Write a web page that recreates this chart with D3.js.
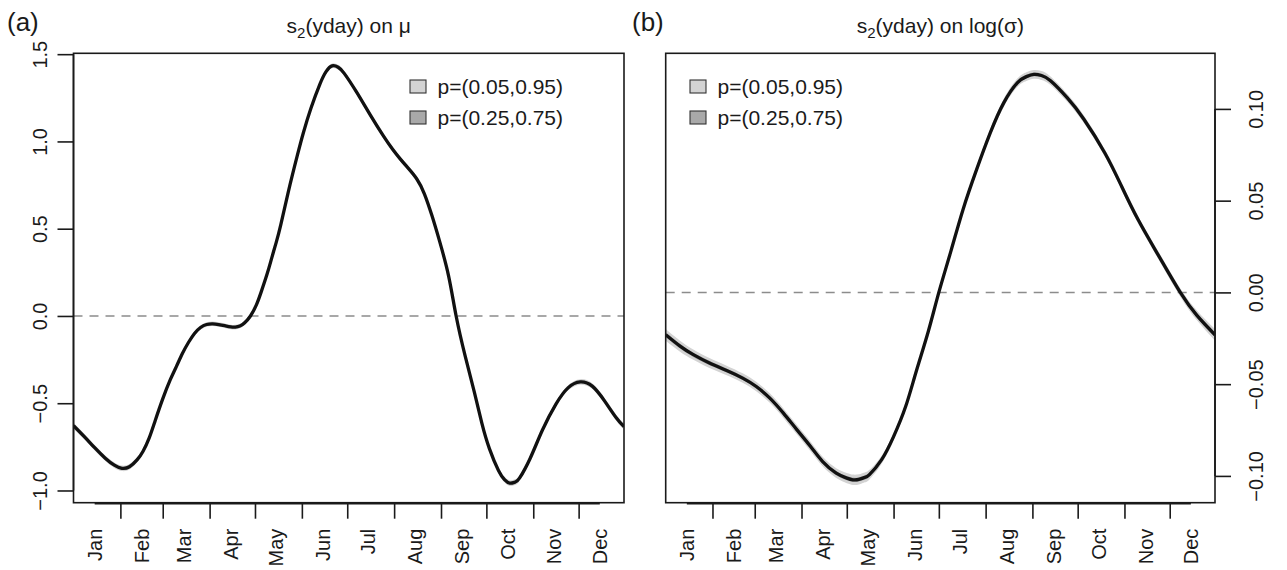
<!DOCTYPE html>
<html>
<head>
<meta charset="utf-8">
<script src="https://cdn.jsdelivr.net/npm/d3@7"></script>
<style>
  body { margin: 0; background: #ffffff; }
  svg text { font-family: "Liberation Sans", Arial, Helvetica, sans-serif; fill: #1a1a1a; }
</style>
</head>
<body>
<svg id="chart" width="1287" height="570"></svg>
<script>
// ---- data -----------------------------------------------------------------
const monthNames  = ["Jan","Feb","Mar","Apr","May","Jun","Jul","Aug","Sep","Oct","Nov","Dec"];
const monthStarts = [32, 60, 91, 121, 152, 182, 213, 244, 274, 305, 335];
const monthMids   = [15, 46, 74, 105, 135, 166, 196, 227, 258, 288, 319, 349];

// smooth effect of day-of-year on mu
const muDay = [1,8,15,22,28,33,38,43,47,51,55,60,65,69,73,77,81,85,89,93,97,101,105,108,111,114,118,122,125,129,
  132,135,138,143,149,153,158,164,168,172,176,180,188,197,206,212,217,222,228,233,238,243,249,254,260,266,271,276,
  282,286,289.5,293,296,303,311,320,328,336,344,352,360,365];
const muFit = [-0.628,-0.69,-0.755,-0.815,-0.855,-0.873,-0.864,-0.825,-0.775,-0.70,-0.600,-0.475,-0.365,-0.29,-0.215,
  -0.152,-0.100,-0.066,-0.049,-0.045,-0.049,-0.056,-0.063,-0.064,-0.058,-0.04,0.0,0.065,0.135,0.24,0.33,0.42,0.52,
  0.71,0.92,1.05,1.19,1.33,1.40,1.433,1.425,1.39,1.285,1.155,1.03,0.955,0.90,0.85,0.785,0.70,0.575,0.43,0.23,0.0,
  -0.23,-0.435,-0.614,-0.76,-0.885,-0.938,-0.958,-0.952,-0.928,-0.815,-0.655,-0.505,-0.412,-0.378,-0.402,-0.485,-0.585,-0.634];
// half widths of the 90% and 50% bands around the mu curve
const muHw90 = [0.018,0.017,0.016,0.016,0.016,0.016,0.016,0.015,0.015,0.014,0.014,0.013,0.013,0.013,0.013,0.013,
  0.013,0.013,0.013,0.013,0.013,0.013,0.013,0.013,0.013,0.013,0.013,0.013,0.013,0.013,0.013,0.013,0.013,0.013,0.013,
  0.013,0.013,0.014,0.014,0.014,0.014,0.014,0.013,0.013,0.013,0.013,0.013,0.013,0.013,0.013,0.013,0.013,0.013,0.013,
  0.013,0.013,0.013,0.014,0.015,0.016,0.016,0.016,0.016,0.015,0.014,0.014,0.015,0.016,0.016,0.016,0.017,0.018];
const muHw50 = [0.008,0.008,0.007,0.007,0.007,0.007,0.007,0.007,0.007,0.006,0.006,0.006,0.006,0.006,0.006,0.006,
  0.006,0.006,0.006,0.006,0.006,0.006,0.006,0.006,0.006,0.006,0.006,0.006,0.006,0.006,0.006,0.006,0.006,0.006,0.006,
  0.006,0.006,0.006,0.006,0.006,0.006,0.006,0.006,0.006,0.006,0.006,0.006,0.006,0.006,0.006,0.006,0.006,0.006,0.006,
  0.006,0.006,0.006,0.006,0.007,0.007,0.007,0.007,0.007,0.007,0.006,0.006,0.007,0.007,0.007,0.007,0.008,0.008];

// smooth effect of day-of-year on log(sigma)
const sigmaDay = [1,10.5,19,30,41,52,61,70,79,88,97,105,114,121,125,129,133,136,144,152,160,167,175,182,190,198,
  207,216,225,234,240,245,250,256,267,278,292,303,314,328,342,353,365];
const sigmaFit = [-0.0231,-0.0293,-0.0338,-0.0385,-0.0424,-0.0467,-0.0513,-0.0576,-0.0658,-0.0749,-0.084,-0.0922,
  -0.0985,-0.1012,-0.1021,-0.1019,-0.1008,-0.0993,-0.0913,-0.0786,-0.0622,-0.0431,-0.0213,0.0,0.0225,0.0451,0.0669,
  0.0868,0.1033,0.1142,0.1176,0.1188,0.1182,0.1153,0.1061,0.0945,0.076,0.058,0.0397,0.0195,0.0,-0.0125,-0.0231];
const sigmaHw90 = [0.0032,0.003,0.0028,0.0027,0.0026,0.0026,0.0026,0.0026,0.0026,0.0026,0.0026,0.0026,0.0027,
  0.0028,0.0028,0.0028,0.0027,0.0026,0.0022,0.0019,0.0016,0.0015,0.0015,0.0015,0.0016,0.0017,0.0019,0.002,0.0022,
  0.0023,0.0024,0.0024,0.0024,0.0023,0.0022,0.0021,0.002,0.002,0.002,0.0021,0.0023,0.0027,0.0032];
const sigmaHw50 = [0.0014,0.0013,0.0012,0.0012,0.0011,0.0011,0.0011,0.0011,0.0011,0.0011,0.0011,0.0011,0.0012,
  0.0012,0.0012,0.0012,0.0012,0.0011,0.001,0.0008,0.0007,0.0007,0.0007,0.0007,0.0007,0.0008,0.0008,0.0009,0.001,
  0.001,0.001,0.001,0.001,0.001,0.001,0.0009,0.0009,0.0009,0.0009,0.0009,0.001,0.0012,0.0014];

const muTicks    = [-1.0, -0.5, 0.0, 0.5, 1.0, 1.5];
const sigmaTicks = [-0.10, -0.05, 0.00, 0.05, 0.10];
const legendLabels = ["p=(0.05,0.95)", "p=(0.25,0.75)"];
const bandColors   = ["#d3d3d3", "#a9a9a9"];

// ---- layout ---------------------------------------------------------------
const svg = d3.select("#chart");
svg.append("rect").attr("width", 1287).attr("height", 570).attr("fill", "#fff");

const ink = "#1a1a1a";
const dayRange = [1, 365];

const panels = [
  { tag: "(a)", tagX: 7, left: 73.5, right: 624, top: 53.3, bottom: 502.7,
    yLim: [-1.07, 1.505], ticks: muTicks, fmt: d3.format(".1f"), side: "left",
    day: muDay, fit: muFit, hw90: muHw90, hw50: muHw50,
    title: "on \u03bc", legendX: 410 },
  { tag: "(b)", tagX: 632, left: 665.7, right: 1215, top: 53.3, bottom: 502.7,
    yLim: [-0.1146, 0.1303], ticks: sigmaTicks, fmt: d3.format(".2f"), side: "right",
    day: sigmaDay, fit: sigmaFit, hw90: sigmaHw90, hw50: sigmaHw50,
    title: "on log(\u03c3)", legendX: 690 }
];

panels.forEach((p, idx) => {
  const g = svg.append("g");
  const x = d3.scaleLinear().domain(dayRange).range([p.left, p.right]);
  const y = d3.scaleLinear().domain(p.yLim).range([p.bottom, p.top]);

  const clipId = "clip" + idx;
  svg.append("clipPath").attr("id", clipId)
    .append("rect").attr("x", p.left).attr("y", p.top)
    .attr("width", p.right - p.left).attr("height", p.bottom - p.top);

  const rows = p.day.map((d, i) => ({ d, f: p.fit[i], h90: p.hw90[i], h50: p.hw50[i] }));
  const curve = d3.curveNatural;
  const plot = g.append("g").attr("clip-path", `url(#${clipId})`);

  // credible bands
  plot.append("path").datum(rows)
    .attr("fill", bandColors[0])
    .attr("d", d3.area().curve(curve).x(r => x(r.d)).y0(r => y(r.f - r.h90)).y1(r => y(r.f + r.h90)));
  plot.append("path").datum(rows)
    .attr("fill", bandColors[1])
    .attr("d", d3.area().curve(curve).x(r => x(r.d)).y0(r => y(r.f - r.h50)).y1(r => y(r.f + r.h50)));

  // zero reference
  plot.append("line")
    .attr("x1", p.left).attr("x2", p.right).attr("y1", y(0)).attr("y2", y(0))
    .attr("stroke", "#8c8c8c").attr("stroke-width", 1.5).attr("stroke-dasharray", "9,7");

  // fitted smooth
  plot.append("path").datum(rows)
    .attr("fill", "none").attr("stroke", "#111").attr("stroke-width", 3.3)
    .attr("stroke-linejoin", "round")
    .attr("d", d3.line().curve(curve).x(r => x(r.d)).y(r => y(r.f)));

  // frame
  g.append("rect").attr("x", p.left).attr("y", p.top)
    .attr("width", p.right - p.left).attr("height", p.bottom - p.top)
    .attr("fill", "none").attr("stroke", ink).attr("stroke-width", 1.6);

  // month boundary ticks
  const xTicks = g.append("g").attr("transform", `translate(0,${p.bottom})`)
    .call(d3.axisBottom(x).tickValues(monthStarts).tickSize(16).tickFormat(""));
  xTicks.select(".domain").remove();
  xTicks.selectAll("line").attr("stroke", ink).attr("stroke-width", 1.6);
  g.append("line")
    .attr("x1", x(monthMids[0])).attr("x2", x(monthMids[monthMids.length - 1]))
    .attr("y1", p.bottom + 0.6).attr("y2", p.bottom + 0.6)
    .attr("stroke", ink).attr("stroke-width", 2.2);

  // month labels
  g.selectAll("text.month").data(monthMids).join("text")
    .attr("class", "month")
    .attr("transform", (d) => `translate(${x(d)},${p.bottom + 26}) rotate(-90)`)
    .attr("text-anchor", "end").attr("dy", "0.35em")
    .attr("font-size", 20)
    .text((d, i) => monthNames[i]);

  // value axis
  const axis = (p.side === "left" ? d3.axisLeft(y) : d3.axisRight(y))
    .tickValues(p.ticks).tickSize(16).tickFormat(p.fmt);
  const ax = g.append("g")
    .attr("transform", `translate(${p.side === "left" ? p.left : p.right},0)`)
    .call(axis);
  ax.select(".domain").remove();
  ax.selectAll("line").attr("stroke", ink).attr("stroke-width", 1.6);
  ax.append("line")
    .attr("x1", 0).attr("x2", 0)
    .attr("y1", y(d3.min(p.ticks))).attr("y2", y(d3.max(p.ticks)))
    .attr("stroke", ink).attr("stroke-width", 1.6);
  ax.selectAll("text")
    .attr("x", null).attr("y", null).attr("dy", null)
    .attr("font-size", 20).attr("font-family", null)
    .attr("fill", ink)
    .attr("text-anchor", "middle")
    .attr("transform", p.side === "left" ? "translate(-27,0) rotate(-90)" : "translate(48,0) rotate(-90)");
  ax.attr("font-family", null).attr("font-size", null);

  // title
  const cx = (p.left + p.right) / 2;
  const t = g.append("text").attr("x", cx).attr("y", 33)
    .attr("text-anchor", "middle").attr("font-size", 21);
  t.append("tspan").text("s");
  t.append("tspan").attr("font-size", 15).attr("dy", 5).text("2");
  t.append("tspan").attr("dy", -5).text("(yday) " + p.title);

  // panel tag
  g.append("text").attr("x", p.tagX).attr("y", 31).attr("font-size", 26).text(p.tag);

  // legend
  const lg = g.append("g").attr("transform", `translate(${p.legendX},0)`);
  legendLabels.forEach((lab, i) => {
    const cy = 86.5 + i * 31;
    lg.append("rect").attr("x", 0).attr("y", cy - 6.5).attr("width", 16).attr("height", 13)
      .attr("fill", bandColors[i]).attr("stroke", "#333").attr("stroke-width", 1.1);
    lg.append("text").attr("x", 27.5).attr("y", cy).attr("dy", "0.35em")
      .attr("font-size", 21).text(lab);
  });
});
</script>
</body>
</html>
